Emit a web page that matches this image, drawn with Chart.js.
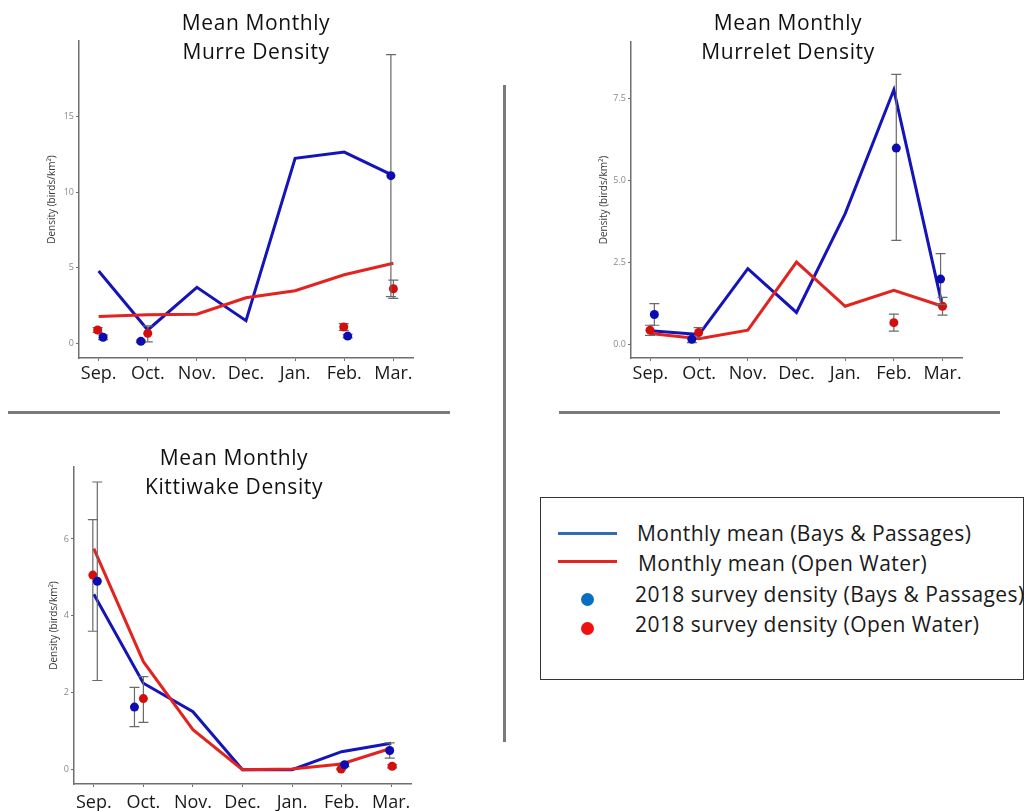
<!DOCTYPE html>
<html>
<head>
<meta charset="utf-8">
<script src="https://cdn.jsdelivr.net/npm/chart.js@4"></script>
<style>
  body { margin: 0; background: #fff; width: 1025px; height: 811px; position: relative; overflow: hidden; font-family: "Open Sans", sans-serif; }
  canvas { position: absolute; }
  .title { position: absolute; width: 260px; text-align: center; font-size: 21px; letter-spacing: 0.6px; line-height: 29px; color: #111; }
  .rule { position: absolute; background: #7a7a7a; }
  #legend { position: absolute; left: 540px; top: 497px; width: 482px; height: 181px; border: 1.5px solid #333; }
  .row { position: absolute; font-size: 21px; letter-spacing: 0.45px; color: #1a1a1a; white-space: nowrap; line-height: 24px; }
  .swatch { position: absolute; height: 3px; width: 59px; left: 17px; }
  .dot { position: absolute; width: 13px; height: 13px; border-radius: 50%; left: 40px; }
</style>
</head>
<body>
<canvas id="murre" width="440" height="395" style="left:0;top:0"></canvas>
<canvas id="murrelet" width="450" height="395" style="left:540px;top:0"></canvas>
<canvas id="kittiwake" width="440" height="386" style="left:0;top:425px"></canvas>

<div class="title" style="left:126px;top:8px">Mean Monthly<br>Murre Density</div>
<div class="title" style="left:658px;top:8px">Mean Monthly<br>Murrelet Density</div>
<div class="title" style="left:104px;top:443px">Mean Monthly<br>Kittiwake Density</div>

<div class="rule" style="left:8px;top:411px;width:442px;height:3px"></div>
<div class="rule" style="left:559px;top:411px;width:441px;height:3px"></div>
<div class="rule" style="left:503px;top:85px;width:3px;height:657px"></div>

<div id="legend">
  <div class="swatch" style="top:34px;background:#2e6db4"></div>
  <div class="row" style="left:96px;top:23px">Monthly mean (Bays &amp; Passages)</div>
  <div class="swatch" style="top:62px;background:#e3241f"></div>
  <div class="row" style="left:97px;top:53px">Monthly mean (Open Water)</div>
  <div class="dot" style="top:95px;background:#0a6fc2"></div>
  <div class="row" style="left:94px;top:84px">2018 survey density (Bays &amp; Passages)</div>
  <div class="dot" style="top:124px;background:#f01010"></div>
  <div class="row" style="left:94px;top:114px">2018 survey density (Open Water)</div>
</div>

<script>
const months = ['Sep.', 'Oct.', 'Nov.', 'Dec.', 'Jan.', 'Feb.', 'Mar.'];

// Murre
const murreBaysMean = [4.78, 0.88, 3.70, 1.50, 12.23, 12.64, 11.08];
const murreOpenMean = [1.78, 1.89, 1.92, 3.01, 3.48, 4.53, 5.29];
const murreBaysX = [0.09, 0.86, 5.07, 5.95];
const murreBaysY = [0.40, 0.13, 0.48, 11.08];
const murreBaysLo = [0.25, 0.05, 0.36, 3.08];
const murreBaysHi = [0.55, 0.21, 0.60, 19.08];
const murreOpenX = [-0.02, 1.0, 4.99, 6.0];
const murreOpenY = [0.88, 0.66, 1.08, 3.61];
const murreOpenLo = [0.72, 0.10, 0.86, 2.97];
const murreOpenHi = [1.04, 1.15, 1.30, 4.18];
const murreTicks = [0, 5, 10, 15];

// Murrelet
const murreletBaysMean = [0.41, 0.30, 2.31, 0.97, 3.99, 7.77, 1.14];
const murreletOpenMean = [0.33, 0.17, 0.43, 2.51, 1.16, 1.65, 1.16];
const murreletBaysX = [0.08, 0.85, 5.05, 5.96];
const murreletBaysY = [0.91, 0.15, 5.99, 1.99];
const murreletBaysLo = [0.58, 0.05, 3.17, 1.21];
const murreletBaysHi = [1.24, 0.25, 8.24, 2.77];
const murreletOpenX = [-0.01, 0.99, 5.0, 6.0];
const murreletOpenY = [0.43, 0.36, 0.66, 1.16];
const murreletOpenLo = [0.27, 0.20, 0.40, 0.89];
const murreletOpenHi = [0.58, 0.51, 0.92, 1.43];
const murreletTicks = [0, 2.5, 5, 7.5];

// Kittiwake
const kittiwakeBaysMean = [4.56, 2.25, 1.51, 0.0, 0.0, 0.47, 0.69];
const kittiwakeOpenMean = [5.75, 2.81, 1.04, 0.0, 0.02, 0.15, 0.56];
const kittiwakeBaysX = [0.07, 0.82, 5.06, 5.97];
const kittiwakeBaysY = [4.90, 1.63, 0.13, 0.50];
const kittiwakeBaysLo = [2.32, 1.12, 0.08, 0.30];
const kittiwakeBaysHi = [7.48, 2.14, 0.18, 0.70];
const kittiwakeOpenX = [-0.02, 1.0, 4.99, 6.02];
const kittiwakeOpenY = [5.06, 1.85, 0.02, 0.09];
const kittiwakeOpenLo = [3.60, 1.23, 0.0, 0.05];
const kittiwakeOpenHi = [6.50, 2.42, 0.04, 0.13];
const kittiwakeTicks = [0, 2, 4, 6];

const BLUE = '#1414b8';
const RED = '#e2231f';
const BLUE_PT = '#0c0cb0';
const RED_PT = '#d40d0d';
const AXIS = '#6f6f6f';

// gray error bars with caps, drawn just under each survey dataset
const errorBars = {
  id: 'errorBars',
  beforeDatasetDraw(chart, args) {
    const ds = chart.data.datasets[args.index];
    if (!ds.errLo) return;
    const ctx = chart.ctx;
    const y = chart.scales.y;
    ctx.save();
    ctx.strokeStyle = '#6a6a6a';
    ctx.lineWidth = 1.2;
    args.meta.data.forEach((pt, i) => {
      const top = y.getPixelForValue(ds.errHi[i]);
      const bot = y.getPixelForValue(ds.errLo[i]);
      ctx.beginPath();
      ctx.moveTo(pt.x, top); ctx.lineTo(pt.x, bot);
      ctx.moveTo(pt.x - 5, top); ctx.lineTo(pt.x + 5, top);
      ctx.moveTo(pt.x - 5, bot); ctx.lineTo(pt.x + 5, bot);
      ctx.stroke();
    });
    ctx.restore();
  }
};

// rotated y-axis title
const yTitle = {
  id: 'yTitle',
  afterDraw(chart, args, opts) {
    const {ctx, chartArea} = chart;
    ctx.save();
    ctx.translate(chartArea.left - opts.offset, (chartArea.top + chartArea.bottom) / 2);
    ctx.rotate(-Math.PI / 2);
    ctx.font = '10px "Open Sans"';
    ctx.fillStyle = '#3a3a3a';
    ctx.textAlign = 'center';
    ctx.textBaseline = 'middle';
    ctx.fillText('Density (birds/km²)', 0, 0);
    ctx.restore();
  }
};

function pts(xs, ys) {
  return xs.map((x, i) => ({x: x, y: ys[i]}));
}

function drawPanel(id, p) {
  const ctx = document.getElementById(id).getContext('2d');
  return new Chart(ctx, {
    type: 'line',
    data: {
      datasets: [
        { data: pts(p.baysX, p.baysY), errLo: p.baysLo, errHi: p.baysHi, showLine: false,
          pointRadius: 4.5, pointBackgroundColor: BLUE_PT, pointBorderWidth: 0 },
        { data: pts(p.openX, p.openY), errLo: p.openLo, errHi: p.openHi, showLine: false,
          pointRadius: 4.5, pointBackgroundColor: RED_PT, pointBorderWidth: 0 },
        { data: pts(months.map((m, i) => i), p.openMean), borderColor: RED, borderWidth: 3,
          pointRadius: 0, tension: 0 },
        { data: pts(months.map((m, i) => i), p.baysMean), borderColor: BLUE, borderWidth: 3,
          pointRadius: 0, tension: 0 }
      ]
    },
    options: {
      responsive: false,
      animation: false,
      devicePixelRatio: 1,
      layout: { padding: { top: p.padTop, right: p.padRight, left: 0, bottom: 0 } },
      plugins: { legend: { display: false }, tooltip: { enabled: false }, yTitle: { offset: p.titleOffset } },
      scales: {
        x: {
          type: 'linear', min: -0.4, max: 6.4,
          afterFit: s => { s.height = p.xHeight; },
          afterBuildTicks: s => { s.ticks = months.map((m, i) => ({ value: i })); },
          border: { display: true, color: AXIS, width: 1.5 },
          grid: { drawOnChartArea: false, drawTicks: true, tickLength: 3, color: AXIS },
          ticks: { callback: v => months[v], padding: p.xPad, color: '#1a1a1a', font: { family: 'Open Sans', size: 18 } }
        },
        y: {
          min: p.yMin, max: p.yMax,
          afterFit: s => { s.width = p.yWidth; },
          afterBuildTicks: s => { s.ticks = p.ticks.map(v => ({ value: v })); },
          border: { display: true, color: AXIS, width: 1.5 },
          grid: { drawOnChartArea: false, drawTicks: true, tickLength: 3, color: AXIS },
          ticks: { callback: p.fmt, padding: 2, color: '#8a8a8a', font: { family: 'Open Sans', size: 9 } }
        }
      }
    },
    plugins: [errorBars, yTitle]
  });
}

Chart.defaults.font.family = 'Open Sans';

drawPanel('murre', {
  baysMean: murreBaysMean, openMean: murreOpenMean,
  baysX: murreBaysX, baysY: murreBaysY, baysLo: murreBaysLo, baysHi: murreBaysHi,
  openX: murreOpenX, openY: murreOpenY, openLo: murreOpenLo, openHi: murreOpenHi,
  ticks: murreTicks, fmt: v => String(v), yMin: -0.97, yMax: 19.98,
  padTop: 41, padRight: 27, yWidth: 79, xHeight: 37, xPad: 2, titleOffset: 27
});

drawPanel('murrelet', {
  baysMean: murreletBaysMean, openMean: murreletOpenMean,
  baysX: murreletBaysX, baysY: murreletBaysY, baysLo: murreletBaysLo, baysHi: murreletBaysHi,
  openX: murreletOpenX, openY: murreletOpenY, openLo: murreletOpenLo, openHi: murreletOpenHi,
  ticks: murreletTicks, fmt: v => v.toFixed(1), yMin: -0.42, yMax: 9.23,
  padTop: 42, padRight: 28, yWidth: 91, xHeight: 37, xPad: 2, titleOffset: 27
});

drawPanel('kittiwake', {
  baysMean: kittiwakeBaysMean, openMean: kittiwakeOpenMean,
  baysX: kittiwakeBaysX, baysY: kittiwakeBaysY, baysLo: kittiwakeBaysLo, baysHi: kittiwakeBaysHi,
  openX: kittiwakeOpenX, openY: kittiwakeOpenY, openLo: kittiwakeOpenLo, openHi: kittiwakeOpenHi,
  ticks: kittiwakeTicks, fmt: v => String(v), yMin: -0.37, yMax: 7.87,
  padTop: 42, padRight: 29, yWidth: 74, xHeight: 27, xPad: 5, titleOffset: 20
});
</script>
</body>
</html>
